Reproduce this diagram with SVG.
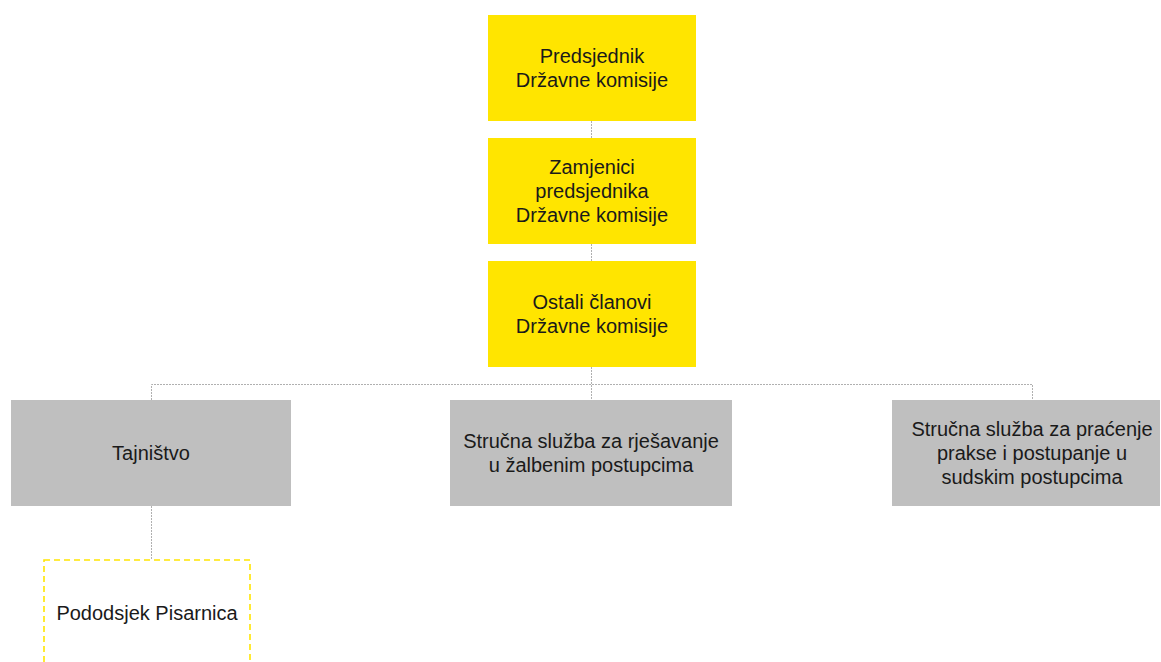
<svg xmlns="http://www.w3.org/2000/svg" width="1161" height="662" viewBox="0 0 1161 662">
  <style>
    .lead { fill: #FFE500; }
    .unit { fill: #BFBFBF; }
    .sub { fill: #FFFFFF; stroke: #FFE500; stroke-width: 1.6; stroke-dasharray: 6 4; }
    .lbl { font-family: "Liberation Sans", Arial, sans-serif; font-size: 20px; fill: #1a1a1a; text-anchor: middle; }
    .link { fill: none; stroke: #B0B0B0; stroke-width: 1; stroke-dasharray: 2 1; }
  </style>
  <rect width="1161" height="662" fill="#FFFFFF"/>

  <g id="connectors">
    <path class="link" d="M591.5 121 V138"/>
    <path class="link" d="M591.5 244 V261"/>
    <path class="link" d="M591.5 367 V400"/>
    <path class="link" d="M151.5 400 V384.5 H1032.5 V400"/>
    <path class="link" d="M151.5 506 V560"/>
  </g>

  <g id="predsjednik">
    <rect class="lead" x="488" y="15" width="208" height="106"/>
    <text class="lbl" x="592" y="63">Predsjednik</text>
    <text class="lbl" x="592" y="87">Državne komisije</text>
  </g>

  <g id="zamjenici">
    <rect class="lead" x="488" y="138" width="208" height="106"/>
    <text class="lbl" x="592" y="174">Zamjenici</text>
    <text class="lbl" x="592" y="198">predsjednika</text>
    <text class="lbl" x="592" y="222">Državne komisije</text>
  </g>

  <g id="clanovi">
    <rect class="lead" x="488" y="261" width="208" height="106"/>
    <text class="lbl" x="592" y="309">Ostali članovi</text>
    <text class="lbl" x="592" y="333">Državne komisije</text>
  </g>

  <g id="tajnistvo">
    <rect class="unit" x="11" y="400" width="280" height="106"/>
    <text class="lbl" x="151" y="460">Tajništvo</text>
  </g>

  <g id="zalbeni">
    <rect class="unit" x="450" y="400" width="282" height="106"/>
    <text class="lbl" x="591" y="448">Stručna služba za rješavanje</text>
    <text class="lbl" x="591" y="472">u žalbenim postupcima</text>
  </g>

  <g id="sudski">
    <rect class="unit" x="892" y="400" width="268" height="106"/>
    <text class="lbl" x="1032" y="436">Stručna služba za praćenje</text>
    <text class="lbl" x="1032" y="460">prakse i postupanje u</text>
    <text class="lbl" x="1032" y="484">sudskim postupcima</text>
  </g>

  <g id="pisarnica">
    <rect class="sub" x="44" y="560" width="206" height="110"/>
    <text class="lbl" x="147" y="620">Pododsjek Pisarnica</text>
  </g>
</svg>
